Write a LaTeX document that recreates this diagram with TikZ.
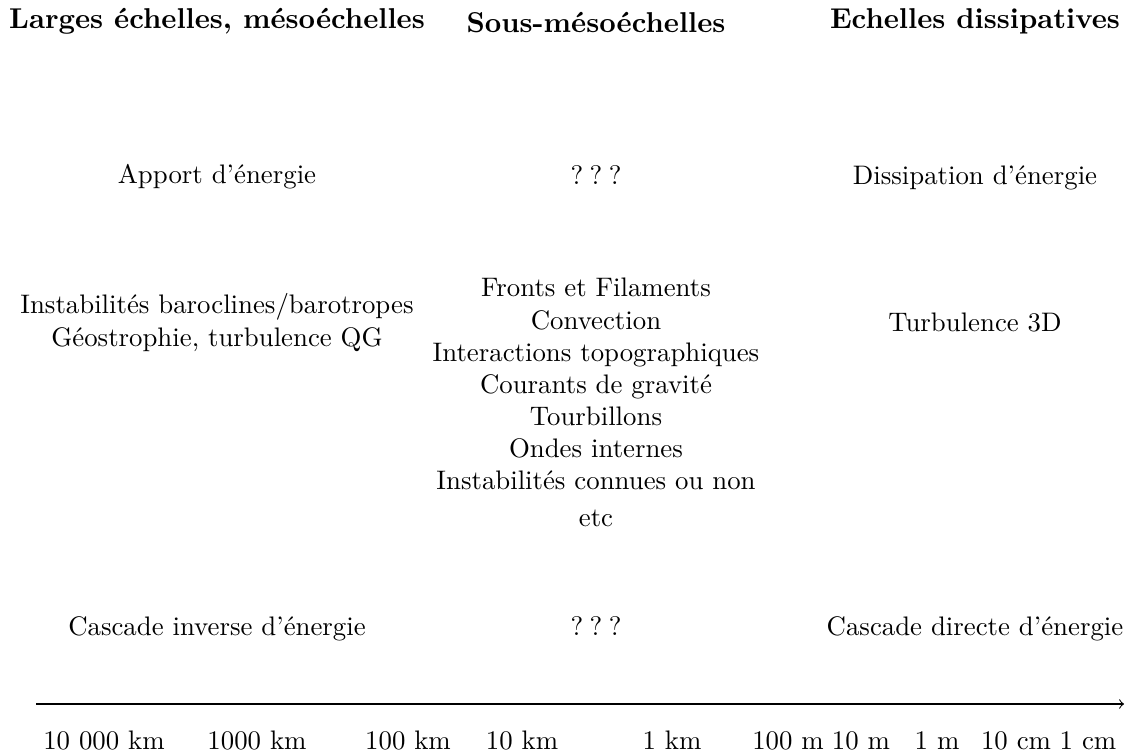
\documentclass[tikz,border=0pt]{standalone}
\usepackage{fontspec}
\begin{document}
\begin{tikzpicture}[x=0.3731pt,y=-0.3731pt,
  lbl/.style={inner sep=0pt, anchor=base},
  head/.style={lbl, font=\fontsize{10.7pt}{13pt}\selectfont\bfseries}]
\useasboundingbox (0,0) rectangle (1130,756);
% headers
\node[head] (h1) at (217,29) {Larges échelles, mésoéchelles};
\node[head] (h2) at (596,33) {Sous-mésoéchelles};
\node[head] (h3) at (975,29) {Echelles dissipatives};
% energy row
\node[lbl] (apport) at (217,184) {Apport d'énergie};
\node[lbl] (q1) at (596,185) {?\kern2.4pt?\kern2.4pt?};
\node[lbl] (diss) at (975,185) {Dissipation d'énergie};
% processes
\node[lbl] (inst1) at (217,314) {Instabilités baroclines/barotropes};
\node[lbl] (inst2) at (217,347) {Géostrophie, turbulence QG};
\node[lbl] (m1) at (596,297) {Fronts et Filaments};
\node[lbl] (m2) at (596,330) {Convection};
\node[lbl] (m3) at (596,362) {Interactions topographiques};
\node[lbl] (m4) at (596,394) {Courants de gravité};
\node[lbl] (m5) at (596,426) {Tourbillons};
\node[lbl] (m6) at (596,458) {Ondes internes};
\node[lbl] (m7) at (596,490) {Instabilités connues ou non};
\node[lbl] (m8) at (596,527) {etc};
\node[lbl] (turb) at (975,332) {Turbulence 3D};
% cascades
\node[lbl] (casinv) at (217,636) {Cascade inverse d'énergie};
\node[lbl] (q2) at (596,636) {?\kern2.4pt?\kern2.4pt?};
\node[lbl] (casdir) at (975,636) {Cascade directe d'énergie};
% axis
\coordinate (a0) at (36,704);
\coordinate (a1) at (1124,704);
\draw[->] (a0) -- (a1);
\node[lbl] (s1) at (104,750) {10 000 km};
\node[lbl] (s2) at (257,750) {1000 km};
\node[lbl] (s3) at (408,750) {100 km};
\node[lbl] (s4) at (522,750) {10 km};
\node[lbl] (s5) at (672,750) {1 km};
\node[lbl] (s6) at (788,750) {100 m};
\node[lbl] (s7) at (861,750) {10 m};
\node[lbl] (s8) at (937,750) {1 m};
\node[lbl] (s9) at (1016,750) {10 cm};
\node[lbl] (s10) at (1088,750) {1 cm};
\end{tikzpicture}
\end{document}
